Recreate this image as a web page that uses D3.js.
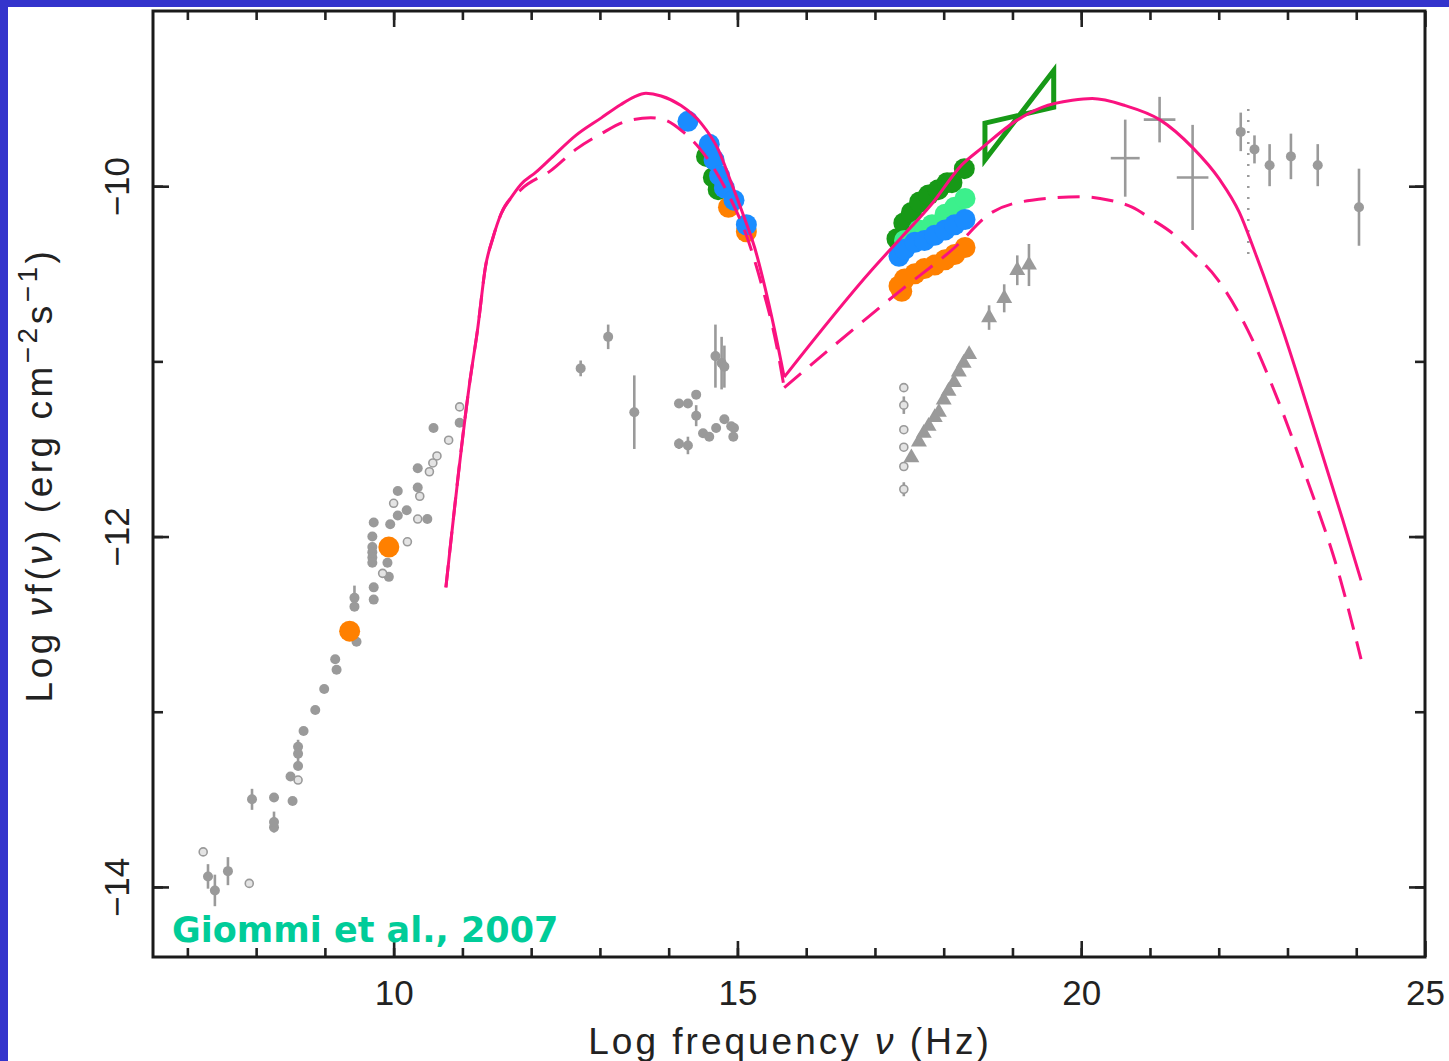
<!DOCTYPE html>
<html>
<head>
<meta charset="utf-8">
<script src="https://cdn.jsdelivr.net/npm/d3@7"></script>
<style>
body { margin: 0; background: #fff; }
</style>
</head>
<body>
<script>
// SED values: log nu (Hz), log nuF(nu) (erg cm^-2 s^-1)

// model curves (magenta)
let syncSolidX = [10.76, 11.11, 11.22, 11.34, 11.44, 11.56, 11.70, 11.85, 12.07, 12.29, 12.65, 13.02, 13.30, 13.50, 13.67, 13.89, 14.18, 14.47, 14.72, 14.91, 15.10, 15.25, 15.39, 15.54, 15.68]
let syncSolidY = [-12.29, -11.11, -10.82, -10.45, -10.30, -10.16, -10.07, -9.99, -9.92, -9.84, -9.71, -9.61, -9.535, -9.49, -9.47, -9.485, -9.54, -9.64, -9.79, -9.98, -10.18, -10.35, -10.56, -10.82, -11.09]
let syncDashX = [10.76, 11.11, 11.22, 11.34, 11.44, 11.56, 11.85, 12.29, 12.65, 13.02, 13.38, 13.74, 13.93, 14.21, 14.44, 14.66, 14.91, 15.13, 15.35, 15.57, 15.68]
let syncDashY = [-12.29, -11.11, -10.82, -10.45, -10.30, -10.16, -10.02, -9.91, -9.79, -9.70, -9.63, -9.61, -9.62, -9.69, -9.78, -9.90, -10.08, -10.28, -10.56, -10.91, -11.15]
let icSolidX = [15.68, 16.95, 17.39, 17.83, 18.26, 18.56, 19.04, 19.43, 19.87, 20.16, 20.64, 21.14, 21.62, 22.01, 22.30, 22.53, 22.93, 23.37, 23.80, 24.07]
let icSolidY = [-11.09, -10.48, -10.29, -10.10, -9.88, -9.78, -9.63, -9.55, -9.51, -9.50, -9.54, -9.62, -9.78, -9.96, -10.15, -10.38, -10.82, -11.36, -11.90, -12.25]
let icDashX = [15.68, 17.39, 18.16, 18.70, 19.28, 20.01, 20.41, 20.74, 21.03, 21.33, 21.57, 21.98, 22.42, 22.86, 23.29, 23.73, 24.07]
let icDashY = [-11.15, -10.59, -10.35, -10.15, -10.08, -10.06, -10.08, -10.12, -10.19, -10.27, -10.36, -10.53, -10.82, -11.22, -11.68, -12.19, -12.70]

// archival data (gray)
let radioX = [10.96, 10.58, 10.35, 10.35, 10.06, 10.19, 10.06, 10.49, 9.95, 9.71, 9.69, 9.69, 9.69, 9.69, 9.69, 9.91, 9.93, 9.71, 9.71, 9.43, 9.46, 9.15, 9.17, 8.99, 8.86, 8.69, 8.61, 8.61, 8.50, 8.53, 8.26, 8.26]
let radioY = [-11.35, -11.38, -11.61, -11.72, -11.74, -11.85, -11.88, -11.90, -11.93, -11.92, -12.00, -12.06, -12.09, -12.12, -12.15, -12.15, -12.23, -12.29, -12.36, -12.40, -12.60, -12.70, -12.76, -12.87, -12.99, -13.11, -13.20, -13.31, -13.37, -13.51, -13.49, -13.66]
let radioOpenX = [10.96, 10.80, 10.63, 10.57, 10.52, 10.38, 10.00, 10.35, 10.20, 9.84, 8.61, 7.23, 7.90]
let radioOpenY = [-11.26, -11.45, -11.54, -11.58, -11.63, -11.77, -11.81, -11.90, -12.03, -12.21, -13.39, -13.80, -13.98]
let radioBarX = [9.43, 7.94, 7.30, 7.40, 7.59, 8.26, 8.61]
let radioBarY = [-12.35, -13.50, -13.94, -14.02, -13.91, -13.63, -13.24]
let radioBarErr = [0.07, 0.06, 0.07, 0.09, 0.08, 0.06, 0.08]
let optX = [12.72, 13.12, 13.50, 14.68, 14.77, 14.81, 14.15, 14.28, 14.40, 14.40, 14.15, 14.28, 14.50, 14.59, 14.69, 14.81, 14.91, 14.95, 14.94]
let optY = [-11.04, -10.86, -11.29, -10.97, -11.01, -11.03, -11.24, -11.24, -11.19, -11.31, -11.47, -11.48, -11.41, -11.43, -11.38, -11.33, -11.37, -11.38, -11.43]
let optErr = [0.045, 0.07, 0.21, 0.18, 0.15, 0.12, 0.02, 0.02, 0.02, 0.06, 0.03, 0.05, 0.02, 0.02, 0.02, 0.02, 0.02, 0.02, 0.02]
let xrayCircX = [17.42, 17.42, 17.42, 17.42, 17.42, 17.42]
let xrayCircY = [-11.15, -11.25, -11.39, -11.49, -11.60, -11.73]
let xrayCircErr = [0, 0.05, 0, 0, 0, 0.04]
let xrayTriX = [17.53, 17.64, 17.71, 17.78, 17.87, 17.93, 18.00, 18.07, 18.15, 18.22, 18.29, 18.37]
let xrayTriY = [-11.55, -11.46, -11.41, -11.37, -11.32, -11.29, -11.22, -11.17, -11.12, -11.06, -11.01, -10.96]
let hardX = [18.66, 18.88, 19.07, 19.24]
let hardY = [-10.75, -10.64, -10.48, -10.45]
let hardErr = [0.07, 0.08, 0.085, 0.12]
let gammaX = [20.64, 21.14, 21.62]
let gammaY = [-9.84, -9.62, -9.95]
let gammaXerr = [0.21, 0.23, 0.23]
let gammaYerr = [0.22, 0.13, 0.30]
let tevX = [22.32, 22.52, 22.74, 23.05, 23.44, 24.04]
let tevY = [-9.69, -9.79, -9.88, -9.83, -9.88, -10.12]
let tevErr = [0.11, 0.08, 0.12, 0.13, 0.12, 0.22]
let limitX = [22.43, 22.43]
let limitY = [-9.56, -10.40]

// simultaneous data (coloured)
let orangeX = [9.36, 9.93, 14.87, 15.13, 17.39, 17.35, 17.43, 17.58, 17.72, 17.87, 18.02, 18.16, 18.31]
let orangeY = [-12.54, -12.06, -10.12, -10.26, -10.60, -10.57, -10.53, -10.50, -10.47, -10.45, -10.42, -10.39, -10.35]
let dgreenX = [14.55, 14.65, 14.72, 17.32, 17.42, 17.53, 17.65, 17.78, 17.92, 18.05, 18.12, 18.30]
let dgreenY = [-9.83, -9.95, -10.02, -10.30, -10.21, -10.15, -10.09, -10.05, -10.02, -9.98, -9.98, -9.90]
let lgreenX = [17.43, 17.64, 17.83, 18.02, 18.16, 18.31]
let lgreenY = [-10.31, -10.25, -10.22, -10.16, -10.12, -10.07]
let blueX = [14.28, 14.59, 14.66, 14.74, 14.81, 14.95, 15.13, 17.35, 17.43, 17.58, 17.72, 17.87, 18.02, 18.16, 18.31]
let blueY = [-9.63, -9.76, -9.85, -9.94, -10.01, -10.08, -10.22, -10.40, -10.36, -10.32, -10.31, -10.28, -10.25, -10.22, -10.19]
let bowX = [18.60, 19.60, 19.60, 18.60]
let bowY = [-9.64, -9.55, -9.34, -9.85]

let xTicks = [10, 15, 20, 25]
let yTicks = [-14, -12, -10]

let width = 1449
let height = 1061
let gray = "#9a9a9a"
let pink = "#fa127f"

let svg = d3.select("body").append("svg")
    .attr("width", width)
    .attr("height", height)

// blue slide border
svg.append("rect").attr("x", 0).attr("y", 0).attr("width", width).attr("height", 7).attr("fill", "#3434cc")
svg.append("rect").attr("x", 0).attr("y", 0).attr("width", 8).attr("height", height).attr("fill", "#3434cc")

let x = d3.scaleLinear().domain([6.5, 25]).range([153, 1425])
let y = d3.scaleLinear().domain([-9, -14.4]).range([11, 957])
let zip = (a, b) => a.map((d, i) => [d, b[i]])

// axes, ticks pointing inward
function axes(g, axis, tr, vals, size, fmt) {
    let a = g.append("g").attr("transform", tr)
        .call(axis.tickValues(vals).tickSize(-size).tickFormat(fmt))
    a.select(".domain").remove()
    a.selectAll("line").attr("stroke", "#222").attr("stroke-width", 2.6)
    return a
}
let axg = svg.append("g")
let minorX = d3.range(7, 25)
let minorY = [-14, -13, -12, -11, -10]
axes(axg, d3.axisBottom(x), "translate(0,957)", minorX, 9, "")
axes(axg, d3.axisTop(x), "translate(0,11)", minorX, 9, "")
axes(axg, d3.axisTop(x), "translate(0,11)", xTicks, 16, "")
axes(axg, d3.axisLeft(y), "translate(153,0)", minorY, 10, "")
axes(axg, d3.axisRight(y), "translate(1425,0)", minorY, 10, "")
axes(axg, d3.axisRight(y), "translate(1425,0)", yTicks, 16, "")
let bx = axes(axg, d3.axisBottom(x), "translate(0,957)", xTicks, 16, d3.format("d"))
bx.selectAll("text")
    .attr("y", 0).attr("dy", 0)
    .attr("transform", "translate(0,48)")
    .style("font-family", "Liberation Sans, Arial, sans-serif")
    .style("font-size", "35px").attr("fill", "#222")
let ly = axes(axg, d3.axisLeft(y), "translate(153,0)", yTicks, 16, d3.format("d"))
ly.selectAll("text")
    .attr("x", 0).attr("dy", 0)
    .attr("text-anchor", "middle")
    .attr("transform", "translate(-24,0) rotate(-90)")
    .style("font-family", "Liberation Sans, Arial, sans-serif")
    .style("font-size", "35px").attr("fill", "#222")

// gray archival points
let pts = svg.append("g")
function bars(xs, ys, es) {
    pts.selectAll(null).data(zip(xs, ys).map((d, i) => [d[0], d[1], es[i]]).filter(d => d[2] > 0))
        .enter().append("line")
        .attr("x1", d => x(d[0])).attr("x2", d => x(d[0]))
        .attr("y1", d => y(d[1] + d[2])).attr("y2", d => y(d[1] - d[2]))
        .attr("stroke", gray).attr("stroke-width", 2.6)
}
bars(radioBarX, radioBarY, radioBarErr)
bars(optX, optY, optErr)
bars(xrayCircX, xrayCircY, xrayCircErr)
bars(hardX, hardY, hardErr)
bars(gammaX, gammaY, gammaYerr)
bars(tevX, tevY, tevErr)
pts.selectAll(null).data(zip(gammaX, gammaY).map((d, i) => [d[0], d[1], gammaXerr[i]]))
    .enter().append("line")
    .attr("x1", d => x(d[0] - d[2])).attr("x2", d => x(d[0] + d[2]))
    .attr("y1", d => y(d[1])).attr("y2", d => y(d[1]))
    .attr("stroke", gray).attr("stroke-width", 2.6)

pts.selectAll(null).data(zip(radioX, radioY).concat(zip(radioBarX, radioBarY), zip(optX, optY), zip(tevX, tevY)))
    .enter().append("circle")
    .attr("cx", d => x(d[0])).attr("cy", d => y(d[1])).attr("r", 5)
    .attr("fill", gray)
pts.selectAll(null).data(zip(radioOpenX, radioOpenY).concat(zip(xrayCircX, xrayCircY)))
    .enter().append("circle")
    .attr("cx", d => x(d[0])).attr("cy", d => y(d[1])).attr("r", 4)
    .attr("fill", "#e4e4e4").attr("stroke", gray).attr("stroke-width", 1.6)
let tri = d3.symbol().type(d3.symbolTriangle).size(110)
pts.selectAll(null).data(zip(xrayTriX, xrayTriY).concat(zip(hardX, hardY)))
    .enter().append("path")
    .attr("d", tri)
    .attr("transform", d => `translate(${x(d[0])},${y(d[1])})`)
    .attr("fill", gray)
pts.append("path")
    .attr("d", d3.line().x(d => x(d[0])).y(d => y(d[1]))(zip(limitX, limitY)))
    .attr("stroke", gray).attr("stroke-width", 2.5).attr("stroke-dasharray", "2,9")

// coloured simultaneous points
function dots(xs, ys, col) {
    svg.append("g").selectAll("circle").data(zip(xs, ys)).enter().append("circle")
        .attr("cx", d => x(d[0])).attr("cy", d => y(d[1])).attr("r", 10.5)
        .attr("fill", col)
}
dots(dgreenX, dgreenY, "#179917")
dots(lgreenX, lgreenY, "#3cf08c")
dots(orangeX, orangeY, "#ff8000")
dots(blueX, blueY, "#1a8cff")

// bow tie
svg.append("path")
    .attr("d", d3.line().x(d => x(d[0])).y(d => y(d[1]))(zip(bowX, bowY)) + "Z")
    .attr("fill", "none").attr("stroke", "#179917").attr("stroke-width", 5)
    .attr("stroke-linejoin", "miter")

// model curves
let line = d3.line().x(d => x(d[0])).y(d => y(d[1])).curve(d3.curveMonotoneX)
let curves = [[syncSolidX, syncSolidY, null], [icSolidX, icSolidY, null],
    [syncDashX, syncDashY, "22,12"], [icDashX, icDashY, "22,12"]]
curves.forEach(c => {
    svg.append("path")
        .attr("d", line(zip(c[0], c[1])))
        .attr("fill", "none").attr("stroke", pink).attr("stroke-width", 3)
        .attr("stroke-dasharray", c[2])
})

// frame
svg.append("rect").attr("x", 153).attr("y", 11).attr("width", 1272).attr("height", 946)
    .attr("fill", "none").attr("stroke", "#1a1a1a").attr("stroke-width", 3)

// titles
svg.append("text")
    .attr("x", 790).attr("y", 1054)
    .attr("text-anchor", "middle")
    .style("font-family", "Liberation Sans, Arial, sans-serif")
    .style("font-size", "37px").style("letter-spacing", "3px").attr("fill", "#222")
    .html("Log frequency <tspan font-style='italic'>ν</tspan> (Hz)")
svg.append("text")
    .attr("transform", "translate(52,475) rotate(-90)")
    .attr("text-anchor", "middle")
    .style("font-family", "Liberation Sans, Arial, sans-serif")
    .style("font-size", "37px").style("letter-spacing", "3.5px").attr("fill", "#222")
    .html("Log <tspan font-style='italic'>ν</tspan>f(<tspan font-style='italic'>ν</tspan>) (erg cm<tspan dy='-15' font-size='28px'>−2</tspan><tspan dy='15'>s</tspan><tspan dy='-15' font-size='28px'>−1</tspan><tspan dy='15'>)</tspan>")

svg.append("text")
    .attr("x", 172).attr("y", 942)
    .style("font-family", "DejaVu Sans, Verdana, sans-serif")
    .style("font-weight", "bold")
    .style("font-size", "35px").attr("fill", "#00cc99")
    .text("Giommi et al., 2007")
</script>
</body>
</html>
